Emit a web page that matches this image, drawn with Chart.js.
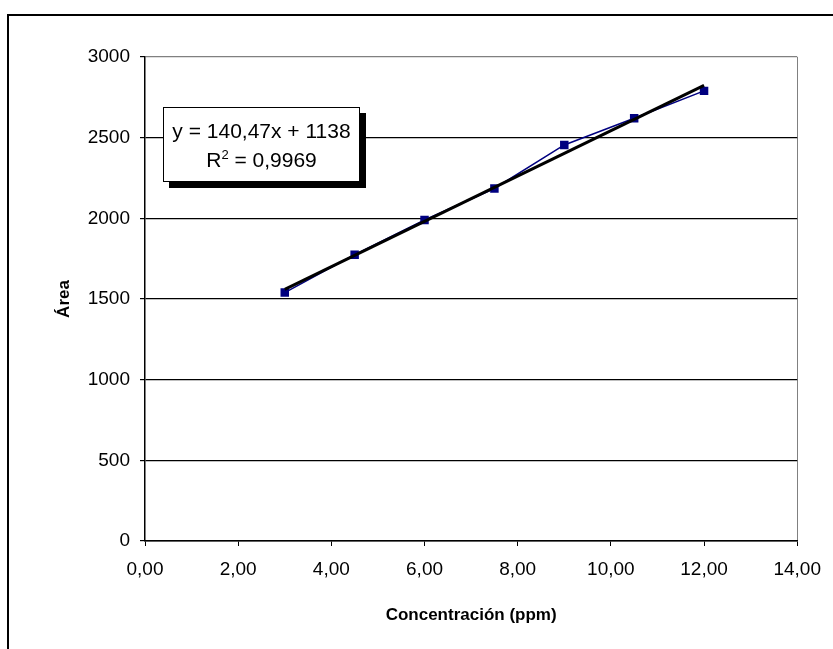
<!DOCTYPE html>
<html>
<head>
<meta charset="utf-8">
<title>Curva de calibración</title>
<script src="https://cdn.jsdelivr.net/npm/chart.js@4"></script>
<style>
    html, body { margin: 0; padding: 0; background: #fff; overflow: hidden; }
    #wrap { position: relative; width: 833px; height: 649px; }
    #frame {
        position: absolute; left: 7px; top: 14px; width: 900px; height: 700px;
        border-left: 2px solid #000; border-top: 2px solid #000;
    }
    #chart { position: absolute; left: 0; top: 0; }
    #eq {
        position: absolute; left: 163px; top: 107px; width: 197px; height: 75px;
        border: 1.5px solid #000; background: #fff; box-shadow: 6px 6px 0 #000;
        font-family: "Liberation Sans", Arial, sans-serif; font-size: 21px; color: #000;
        text-align: center; line-height: 29px; padding-top: 8px; box-sizing: border-box;
    }
    #eq sup { font-size: 13px; line-height: 0; }
</style>
</head>
<body>
<div id="wrap">
    <div id="frame"></div>
    <canvas id="chart" width="833" height="649"></canvas>
    <div id="eq"></div>
</div>
<script>
// calibration points: concentration (ppm) vs peak area
const concentration = [3, 4.5, 6, 7.5, 9, 10.5, 12];
const area = [1540, 1775, 1990, 2185, 2455, 2620, 2790];

// linear trendline as reported
const trendSlope = 140.47;
const trendIntercept = 1138;
const trendR2 = 0.9969;

const xTicks = [0, 2, 4, 6, 8, 10, 12, 14];
const yTicks = [0, 500, 1000, 1500, 2000, 2500, 3000];

function comma(v, d) {
    return v.toFixed(d).replace('.', ',');
}

document.getElementById('eq').innerHTML =
    'y = ' + comma(trendSlope, 2) + 'x + ' + trendIntercept + '<br>' +
    'R<sup>2</sup> = ' + comma(trendR2, 4);

const xFirst = concentration[0];
const xLast = concentration[concentration.length - 1];
const trendPoints = [
    { x: xFirst, y: trendSlope * xFirst + trendIntercept },
    { x: xLast, y: trendSlope * xLast + trendIntercept }
];

const font = { family: '"Liberation Sans", Arial, sans-serif', size: 19 };
const titleFont = { family: '"Liberation Sans", Arial, sans-serif', size: 17, weight: 'bold' };

new Chart(document.getElementById('chart').getContext('2d'), {
    type: 'scatter',
    data: {
        datasets: [
            {
                label: 'Lineal',
                data: trendPoints,
                showLine: true,
                borderColor: '#000',
                borderWidth: 3,
                pointRadius: 0,
                order: 0
            },
            {
                label: 'Área',
                data: concentration.map((c, i) => ({ x: c, y: area[i] })),
                showLine: true,
                borderColor: '#000080',
                borderWidth: 1.5,
                backgroundColor: '#000080',
                pointStyle: 'rect',
                pointRadius: 6,
                pointBorderWidth: 0,
                order: 1
            }
        ]
    },
    options: {
        responsive: false,
        animation: false,
        devicePixelRatio: 1,
        layout: { padding: { left: 50, top: 57, right: 35, bottom: 20 } },
        plugins: { legend: { display: false }, tooltip: { enabled: false } },
        scales: {
            x: {
                type: 'linear',
                min: xTicks[0],
                max: xTicks[xTicks.length - 1],
                afterBuildTicks: s => { s.ticks = xTicks.map(v => ({ value: v })); },
                afterFit: s => { s.height = 88; },
                ticks: {
                    color: '#000', font: font, padding: 12, maxRotation: 0,
                    callback: v => comma(v, 2)
                },
                grid: {
                    color: c => c.tick && c.tick.value === 14 ? '#808080' : 'rgba(0,0,0,0)',
                    tickColor: '#000',
                    tickLength: 5,
                    lineWidth: 1
                },
                border: { color: '#000', width: 1.5 },
                title: {
                    display: true, text: 'Concentración (ppm)', color: '#000',
                    font: titleFont, padding: { top: 0, bottom: 3 }
                }
            },
            y: {
                type: 'linear',
                min: yTicks[0],
                max: yTicks[yTicks.length - 1],
                afterBuildTicks: s => { s.ticks = yTicks.map(v => ({ value: v })); },
                afterFit: s => { s.width = 95; },
                ticks: {
                    color: '#000', font: font, padding: 10,
                    callback: v => String(v)
                },
                grid: {
                    color: c => c.tick && c.tick.value === 3000 ? '#808080' : '#000',
                    tickColor: '#000',
                    tickLength: 5,
                    lineWidth: 1.2
                },
                border: { color: '#000', width: 1.5 },
                title: {
                    display: true, text: 'Área', color: '#000',
                    font: titleFont, padding: { top: 4, bottom: 0 }
                }
            }
        }
    }
});
</script>
</body>
</html>
